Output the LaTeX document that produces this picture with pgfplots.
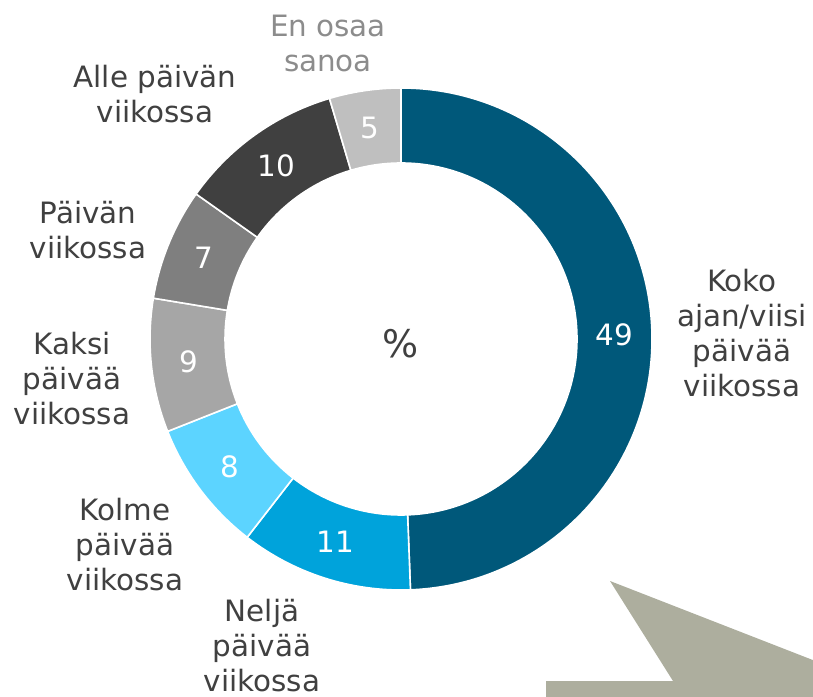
\documentclass[border=0pt]{standalone}
\usepackage{pgfplots}
\pgfplotsset{compat=1.18}
\usepackage{fontspec}
\setmainfont{DejaVu Sans}
\definecolor{cA}{HTML}{00587A}
\definecolor{cB}{HTML}{00A3DB}
\definecolor{cC}{HTML}{5CD4FF}
\definecolor{cD}{HTML}{A6A6A6}
\definecolor{cE}{HTML}{7F7F7F}
\definecolor{cF}{HTML}{404040}
\definecolor{cG}{HTML}{BFBFBF}
\definecolor{arrowc}{HTML}{ADAE9E}
\definecolor{txt}{HTML}{404040}
\definecolor{txtl}{HTML}{8C8C8C}
\begin{document}
\begin{tikzpicture}[every node/.style={font=\fontsize{14.7}{17.5}\selectfont, inner sep=0pt, align=center, text=txt}]
\begin{axis}[at={(0,0)}, anchor=south west, x=0.5pt, y=0.5pt,
  xmin=0, xmax=813, ymin=0, ymax=696, hide axis, clip=false]
% background arrow shape
\fill[arrowc] (axis cs:610,115) -- (axis cs:900,2) -- (axis cs:900,-30) -- (axis cs:546,-30) -- (axis cs:546,15) -- (axis cs:673,15) -- cycle;
% donut segments (value for angle / shown label / colour)
\gdef\angstart{90}
\foreach \v/\lab/\col in {49.4/49/cA, 11.1/11/cB, 8.5/8/cC, 8.6/9/cD, 7.2/7/cE, 10.6/10/cF, 4.6/5/cG}{
  \pgfmathsetmacro\aS{\angstart}
  \pgfmathsetmacro\aE{\angstart-3.6*\v}
  \pgfmathsetmacro\aI{\aE+180}
  \pgfmathsetmacro\aM{(\aS+\aE)/2}
  \edef\temp{\noexpand\fill[\col,draw=white,line width=0.8pt] (axis cs:401,357) ++(\aS:125.5pt) arc[start angle=\aS,end angle=\aE,radius=125.5pt] -- ++(\aI:37.5pt) arc[start angle=\aE,end angle=\aS,radius=88pt] -- cycle;
    \noexpand\path (axis cs:401,357) ++(\aM:106.75pt) node[text=white]{\lab};}
  \temp
  \xdef\angstart{\aE}
}
\node[font=\fontsize{19}{22}\selectfont] at (axis cs:401,352) {\%};
\node at (axis cs:742,362.5) {Koko\\ajan/viisi\\päivää\\viikossa};
\node at (axis cs:262,50) {Neljä\\päivää\\viikossa};
\node at (axis cs:125,151) {Kolme\\päivää\\viikossa};
\node at (axis cs:72,317) {Kaksi\\päivää\\viikossa};
\node at (axis cs:88,466) {Päivän\\viikossa};
\node at (axis cs:155,601.5) {Alle päivän\\viikossa};
\node[text=txtl] at (axis cs:328,652.5) {En osaa\\sanoa};
\end{axis}
\pgfresetboundingbox
\path (0,0) rectangle (406.5pt,348pt);
\end{tikzpicture}
\end{document}
